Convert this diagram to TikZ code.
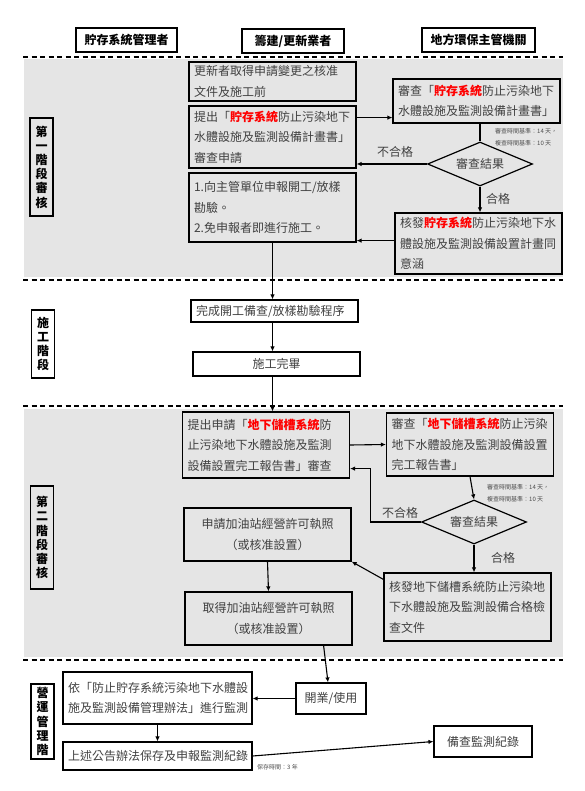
\documentclass[tikz,border=0pt]{standalone}
\usepackage{fontspec}
\setmainfont{Noto Sans CJK TC}
\usepackage{tikz}
\usetikzlibrary{
  arrows.meta,
  calc,
  shapes.geometric
}

\begin{document}
\begin{tikzpicture}[
        >={Latex[length=5pt,width=4.5pt]},
        x=1pt, y=-1pt,
        fundo/.style={fill=black!10},
        divisa/.style={line width=1.1pt, dash pattern=on 5pt off 3.5pt},
        caixa/.style={draw, line width=1.2pt, inner xsep=5pt, inner ysep=0pt,
                      minimum width=167pt, text width=157pt, align=left,
                      text=black!75, font=\fontsize{12}{20.5}\selectfont},
        centro/.style={align=center},
        papel/.style={draw, line width=1.2pt, inner sep=0pt, align=center,
                      font=\bfseries\fontsize{12}{14}\selectfont},
        fase/.style={draw, line width=1.2pt, inner sep=0pt, align=center,
                     minimum width=23pt,
                     font=\bfseries\fontsize{12}{14.2}\selectfont},
        decisao/.style={draw, diamond, line width=1.2pt, inner sep=0pt,
                        minimum width=105pt, minimum height=44pt, aspect=2.4,
                        text=black!75, font=\fontsize{12}{14}\selectfont},
        rotulo/.style={text=black!75, font=\fontsize{12}{14}\selectfont},
        nota/.style={anchor=west, align=left, inner sep=0pt, text=black!70,
                     font=\fontsize{6}{12}\selectfont},
        seta/.style={->, line width=1.1pt},
        linha/.style={line width=1.1pt}
    ]
        \useasboundingbox (0,0) rectangle (585,791);
        % faixas cinzentas e divisorias
        \fill[fundo] (24,59) rectangle (563,277);
        \fill[fundo] (24,409) rectangle (563,657);
        \draw[divisa] (23,57) -- (563,57);
        \draw[divisa] (23,280) -- (563,280);
        \draw[divisa] (23,406) -- (563,406);
        \draw[divisa] (23,660) -- (563,660);

        % papeis
        \node[papel, minimum width=101pt, minimum height=24pt] (h1) at (126.5,40) {貯存系統管理者};
        \node[papel, minimum width=102pt, minimum height=24pt] (h2) at (293,41) {籌建/更新業者};
        \node[papel, minimum width=113pt, minimum height=24pt] (h3) at (478.5,40) {地方環保主管機關};

        % fases
        \node[fase, minimum height=98pt] (f1) at (41.5,167) {第\\一\\階\\段\\審\\核};
        \node[fase, minimum height=68pt] (f2) at (43,344) {施\\工\\階\\段};
        \node[fase, minimum height=103pt] (f3) at (42,537.5) {第\\二\\階\\段\\審\\核};
        \node[fase, minimum height=75pt] (f4) at (42.5,721.5) {營\\運\\管\\理\\階};

        % primeira etapa
        \node[caixa, minimum height=39pt] (b1) at (272.5,81.5)
            {更新者取得申請變更之核准\\文件及施工前};
        \node[caixa, minimum height=62pt] (b2) at (272.5,137)
            {提出「{\bfseries\color{red}貯存系統}防止污染地下\\水體設施及監測設備計畫書」\\審查申請};
        \node[caixa, minimum height=69pt] (b3) at (272.5,207.5)
            {1.向主管單位申報開工/放樣\\勘驗。\\2.免申報者即進行施工。};
        \node[caixa, minimum height=44pt] (r1) at (476.5,101)
            {審查「{\bfseries\color{red}貯存系統}防止污染地下\\水體設施及監測設備計畫書」};
        \node[decisao] (d1) at (480,164) {審查結果};
        \node[caixa, minimum height=61pt] (r2) at (478.5,243.5)
            {核發{\bfseries\color{red}貯存系統}防止污染地下水\\體設施及監測設備設置計畫同\\意涵};
        \node[nota] (t1) at (495,137) {審查時間基準：14 天，\\複查時間基準：10 天};
        \node[rotulo] (n1) at (395,152) {不合格};
        \node[rotulo] (a1) at (498,199) {合格};

        % construcao
        \node[caixa, minimum height=22pt] (c1) at (274.5,311) {完成開工備查/放樣勘驗程序};
        \node[caixa, centro, minimum height=24pt] (c2) at (276.5,364) {施工完畢};

        % segunda etapa
        \node[caixa, minimum height=66pt] (s1) at (266,445)
            {提出申請「{\bfseries\color{red}地下儲槽系統}防\\止污染地下水體設施及監測\\設備設置完工報告書」審查};
        \node[caixa, minimum height=63pt] (s2) at (470,444.5)
            {審查「{\bfseries\color{red}地下儲槽系統}防止污染\\地下水體設施及監測設備設置\\完工報告書」};
        \node[decisao] (d2) at (474,522) {審查結果};
        \node[caixa, minimum height=68pt] (s3) at (467.5,607)
            {核發地下儲槽系統防止污染地\\下水體設施及監測設備合格檢\\查文件};
        \node[caixa, centro, minimum height=53pt] (s4) at (267.5,534.5)
            {申請加油站經營許可執照\\（或核准設置）};
        \node[caixa, centro, minimum height=53pt] (s5) at (268.5,618.5)
            {取得加油站經營許可執照\\（或核准設置）};
        \node[nota] (t2) at (487,493) {審查時間基準：14 天，\\複查時間基準：10 天};
        \node[rotulo] (n2) at (400,513) {不合格};
        \node[rotulo] (a2) at (503,558) {合格};

        % operacao
        \node[caixa, minimum width=189pt, text width=179pt, minimum height=52pt] (o1) at (157.5,698)
            {依「防止貯存系統污染地下水體設\\施及監測設備管理辦法」進行監測};
        \node[caixa, centro, minimum width=189pt, text width=179pt, minimum height=28pt] (o2) at (157.5,756)
            {上述公告辦法保存及申報監測紀錄};
        \node[caixa, centro, minimum width=70pt, text width=60pt, minimum height=31pt] (o3) at (331,698.5) {開業/使用};
        \node[caixa, centro, minimum width=98pt, text width=88pt, minimum height=31pt] (o4) at (483,741.5) {備查監測紀錄};
        \node[nota] (t3) at (257,767) {保存時間：3 年};

        % ligacoes
        \coordinate (r1in) at ([yshift=6pt]r1.south west);
        \draw[seta] (b2.east |- r1in) -- (r1in);
        \draw[linha] (d1.north |- r1.south) -- (d1.north);
        \draw[seta] (d1.west) -- (d1.west -| b2.east);
        \draw[seta] (d1.south) -- (d1.south |- r2.north);
        \coordinate (b3in) at ([yshift=2pt]b3.south east);
        \draw[seta] (r2.west |- b3in) -- (b3in);
        \draw[seta] (b3.south) -- (b3.south |- c1.north);
        \draw[seta] (b3.south |- c1.south) -- (b3.south |- c2.north);
        \draw[seta] (b3.south |- c2.south) -- (b3.south |- s1.north);
        \draw[seta] (s1.east) -- (s2.west);
        \draw[seta] (s2.south) -- (d2.north);
        \coordinate (s1in) at ([yshift=10pt]s1.south east);
        \draw[seta] (d2.west) -- ++(-50,0) |- (s1in);
        \draw[seta] (d2.south) -- (d2.south |- s3.north);
        \draw[seta] ([yshift=-7pt]s3.north west) -- (s4.south east);
        \draw[seta] (s4.south) -- (s5.north);
        \draw[seta] ([xshift=-29pt]s5.south east) -- ([xshift=-3pt]o3.north);
        \draw[seta] (o3.west) -- (o3.west -| o1.east);
        \draw[seta] (o1.south) -- (o2.north);
        \draw[seta] (o2.east) -- (o4.west);
    \end{tikzpicture}
\end{document}
